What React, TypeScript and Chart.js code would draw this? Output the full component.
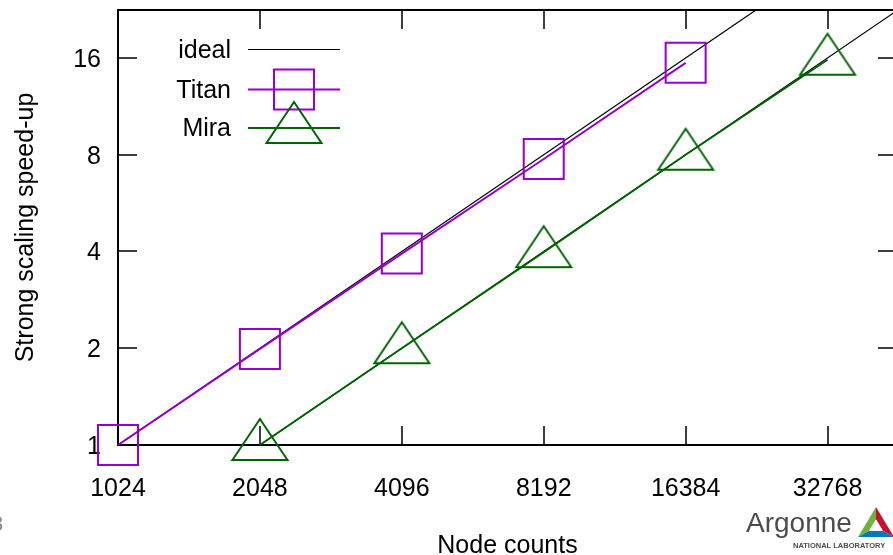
import React, { useEffect, useRef } from 'react';
import { Chart, registerables } from 'chart.js';

Chart.register(...registerables);

// ---- data ----
const nodeTicks = [1024, 2048, 4096, 8192, 16384, 32768];
const speedupTicks = [1, 2, 4, 8, 16];
const titanNodes = [1024, 2048, 4096, 8192, 16384];
const titanSpeedup = [1, 1.99, 3.94, 7.76, 15.45];
const miraNodes = [2048, 4096, 8192, 16384, 32768];
const miraSpeedup = [1, 2.0, 3.98, 8.0, 15.8];
const idealTitanNodes = [1024, 65536];
const idealTitanSpeedup = [1, 64];
const idealMiraNodes = [2048, 65536];
const idealMiraSpeedup = [1, 32];
const xRange = [1024, 46000];
const yRange = [1, 22.56];
const legendLabels = ['ideal', 'Titan', 'Mira'];
const xTitle = 'Node counts';
const yTitle = 'Strong scaling speed-up';

const FONT = "'Liberation Sans', Arial, Helvetica, sans-serif";
const PURPLE = '#9400D3';
const GREEN = '#006400';

function pts(xs: number[], ys: number[]) {
  return xs.map((x, i) => ({ x, y: ys[i] }));
}

function makeTriangle(color: string, lw: number): HTMLCanvasElement {
  const c = document.createElement('canvas');
  c.width = 64;
  c.height = 64;
  const g = c.getContext('2d')!;
  g.strokeStyle = color;
  g.lineWidth = lw;
  g.lineJoin = 'miter';
  g.beginPath();
  g.moveTo(32, 32 - 26);
  g.lineTo(32 + 27.5, 32 + 15);
  g.lineTo(32 - 27.5, 32 + 15);
  g.closePath();
  g.stroke();
  return c;
}

function zeroPadding(s: any) {
  s.paddingTop = 0;
  s.paddingBottom = 0;
  s.paddingLeft = 0;
  s.paddingRight = 0;
}

export default function App() {
  const ref = useRef<HTMLCanvasElement | null>(null);

  useEffect(() => {
    if (!ref.current) return;
    const tri = makeTriangle(GREEN, 2);

    const framePlugin = {
      id: 'gnuframe',
      beforeDatasetsDraw(chart: any) {
        const { ctx, chartArea: a, scales } = chart;
        const xs = scales.x;
        const ys = scales.y;
        ctx.save();
        ctx.strokeStyle = '#000';
        ctx.lineWidth = 1.5;
        ctx.beginPath();
        nodeTicks.forEach((v) => {
          const px = Math.round(xs.getPixelForValue(v));
          ctx.moveTo(px, a.bottom);
          ctx.lineTo(px, a.bottom - 19);
          ctx.moveTo(px, a.top);
          ctx.lineTo(px, a.top + 19);
        });
        speedupTicks.forEach((v) => {
          const py = Math.round(ys.getPixelForValue(v));
          ctx.moveTo(a.left, py);
          ctx.lineTo(a.left + 19, py);
          ctx.moveTo(a.right, py);
          ctx.lineTo(a.right - 19, py);
        });
        ctx.stroke();
        ctx.lineWidth = 2;
        ctx.strokeRect(a.left, a.top, a.right - a.left, a.bottom - a.top);
        ctx.restore();
      },
    };

    const extrasPlugin = {
      id: 'extras',
      afterDraw(chart: any) {
        const { ctx } = chart;
        ctx.save();
        // legend
        const textX = 231;
        const x0 = 248;
        const x1 = 340;
        const xm = (x0 + x1) / 2;
        const rows = [49.5, 89.5, 128];
        ctx.font = `25px ${FONT}`;
        ctx.fillStyle = '#000';
        ctx.textAlign = 'right';
        ctx.textBaseline = 'middle';
        legendLabels.forEach((t, i) => ctx.fillText(t, textX, rows[i] + 1.5));
        // ideal
        ctx.strokeStyle = '#000';
        ctx.lineWidth = 1.2;
        ctx.beginPath();
        ctx.moveTo(x0, rows[0]);
        ctx.lineTo(x1, rows[0]);
        ctx.stroke();
        // titan
        ctx.strokeStyle = PURPLE;
        ctx.lineWidth = 2;
        ctx.beginPath();
        ctx.moveTo(x0, rows[1]);
        ctx.lineTo(x1, rows[1]);
        ctx.stroke();
        ctx.strokeRect(xm - 20, rows[1] - 20, 40, 40);
        // mira
        ctx.strokeStyle = GREEN;
        ctx.beginPath();
        ctx.moveTo(x0, rows[2]);
        ctx.lineTo(x1, rows[2]);
        ctx.stroke();
        ctx.drawImage(tri, xm - 32, rows[2] - 32);

        // slide number (cut off at the left edge)
        ctx.fillStyle = '#8a8a8a';
        ctx.textAlign = 'left';
        ctx.textBaseline = 'alphabetic';
        ctx.font = `22px ${FONT}`;
        ctx.fillText('3', -9, 531);

        // Argonne logo
        ctx.fillStyle = '#4d4d4d';
        ctx.font = `28px ${FONT}`;
        ctx.fillText('Argonne', 746, 532);
        ctx.font = `bold 7.5px ${FONT}`;
        ctx.fillText('NATIONAL LABORATORY', 793, 547.5);

        const A = { x: 876, y: 507 };
        const B = { x: 858, y: 537 };
        const C = { x: 894, y: 537 };
        const cx = (A.x + B.x + C.x) / 3;
        const cy = (A.y + B.y + C.y) / 3;
        const s = 0.38;
        const inner = (p: any) => ({ x: cx + (p.x - cx) * s, y: cy + (p.y - cy) * s });
        const a = inner(A);
        const b = inner(B);
        const c = inner(C);
        const quad = (p: any[], col: string) => {
          ctx.fillStyle = col;
          ctx.beginPath();
          ctx.moveTo(p[0].x, p[0].y);
          for (let i = 1; i < p.length; i++) ctx.lineTo(p[i].x, p[i].y);
          ctx.closePath();
          ctx.fill();
        };
        quad([A, B, b, a], '#6cb33f');
        quad([A, C, c, a], '#c8102e');
        quad([B, C, c, b], '#0079c1');
        quad([a, b, c], '#ffffff');
        ctx.restore();
      },
    };

    const tickFont = { family: FONT, size: 25 };
    const xTitleFont = { family: FONT, size: 25, lineHeight: 0.75 };
    const yTitleFont = { family: FONT, size: 25, lineHeight: 0.9 };

    const chart = new Chart(ref.current, {
      type: 'scatter',
      data: {
        datasets: [
          {
            label: 'Titan',
            data: pts(titanNodes, titanSpeedup),
            showLine: true,
            borderColor: PURPLE,
            borderWidth: 2,
            pointStyle: 'rect',
            pointRadius: 28.28,
            pointBorderWidth: 2,
            pointBorderColor: PURPLE,
            pointBackgroundColor: 'rgba(0,0,0,0)',
            clip: false,
          } as any,
          {
            label: 'Mira',
            data: pts(miraNodes, miraSpeedup),
            showLine: true,
            borderColor: GREEN,
            borderWidth: 2,
            pointStyle: tri,
            pointRadius: 28,
            clip: false,
          } as any,
          {
            label: 'ideal',
            data: pts(idealTitanNodes, idealTitanSpeedup),
            showLine: true,
            borderColor: '#000',
            borderWidth: 1.2,
            pointRadius: 0,
          },
          {
            label: 'ideal (Mira)',
            data: pts(idealMiraNodes, idealMiraSpeedup),
            showLine: true,
            borderColor: '#000',
            borderWidth: 1.2,
            pointRadius: 0,
          },
        ],
      },
      options: {
        animation: false,
        responsive: false,
        devicePixelRatio: 1,
        events: [],
        layout: { autoPadding: false, padding: { top: 10, right: 13, left: 0, bottom: 0 } },
        plugins: {
          legend: { display: false },
          tooltip: { enabled: false },
        },
        scales: {
          x: {
            type: 'logarithmic',
            position: 'bottom',
            min: xRange[0],
            max: xRange[1],
            afterBuildTicks: (s: any) => {
              s.ticks = nodeTicks.map((v) => ({ value: v }));
            },
            afterFit: (s: any) => {
              s.height = 110;
              zeroPadding(s);
            },
            ticks: {
              callback: (v: any) => String(v),
              autoSkip: false,
              maxRotation: 0,
              minRotation: 0,
              padding: 29.5,
              font: tickFont,
              color: '#000',
            },
            grid: { display: false, drawTicks: false },
            border: { display: false },
            title: {
              display: true,
              text: xTitle,
              font: xTitleFont,
              color: '#000',
              padding: 0,
            },
          },
          y: {
            type: 'logarithmic',
            position: 'left',
            min: yRange[0],
            max: yRange[1],
            afterBuildTicks: (s: any) => {
              s.ticks = speedupTicks.map((v) => ({ value: v }));
            },
            afterFit: (s: any) => {
              s.width = 118;
              zeroPadding(s);
            },
            ticks: {
              callback: (v: any) => String(v),
              autoSkip: false,
              padding: 17,
              labelOffset: 2,
              font: tickFont,
              color: '#000',
            },
            grid: { display: false, drawTicks: false },
            border: { display: false },
            title: {
              display: true,
              text: yTitle,
              font: yTitleFont,
              color: '#000',
              padding: { top: 15, bottom: 0 },
            },
          },
        },
      } as any,
      plugins: [framePlugin, extrasPlugin],
    });

    return () => chart.destroy();
  }, []);

  return (
    <div
      style={{
        position: 'fixed',
        left: 0,
        top: 0,
        width: 893,
        height: 555,
        overflow: 'hidden',
        background: '#fff',
      }}
    >
      <canvas
        ref={ref}
        width={910}
        height={555}
        style={{ display: 'block', width: 910, height: 555 }}
      />
    </div>
  );
}
